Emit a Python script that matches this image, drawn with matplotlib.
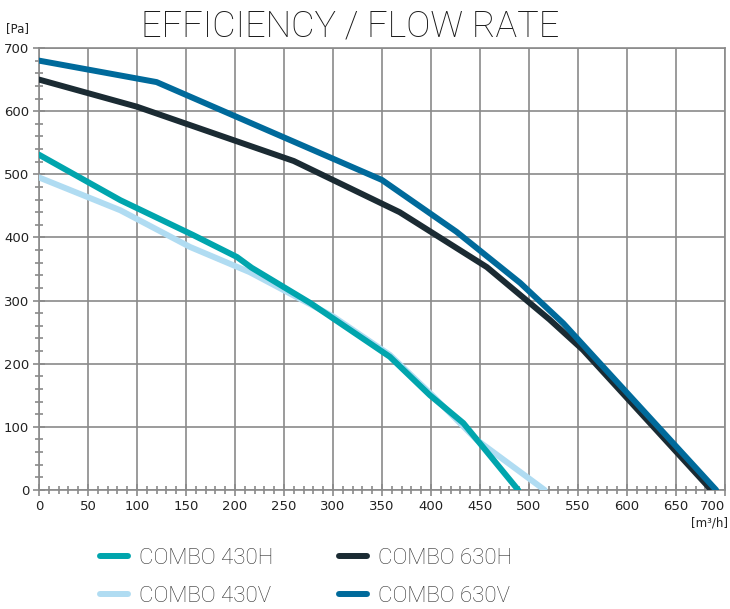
import numpy as np
import matplotlib
matplotlib.use("Agg")
import matplotlib.pyplot as plt
from matplotlib.ticker import MultipleLocator
from matplotlib.lines import Line2D

# curves (flow m3/h, pressure Pa)
x_430h = [0, 83, 157, 202, 217, 277, 358, 399, 433, 489]
y_430h = [531, 459, 404, 369, 352, 296, 211, 150, 106, 0]
x_430v = [0, 83, 154, 215, 243, 300, 358, 400, 447, 516]
y_430v = [495, 443, 385, 345, 322, 275, 214, 152, 79, 0]
x_630h = [0, 100, 260, 368, 457, 521, 555, 686]
y_630h = [650, 607, 521, 440, 353, 270, 222, 0]
x_630v = [0, 120, 350, 426, 491, 535, 691]
y_630v = [680, 646, 491, 409, 328, 264, 0]

names = ["COMBO 430H", "COMBO 430V", "COMBO 630H", "COMBO 630V"]
colors = ["#00a5ad", "#b0dcf2", "#1b2b33", "#006a9b"]
xticks = list(range(0, 701, 50))

fig = plt.figure(figsize=(7.3, 6.09), dpi=100)
ax = fig.add_axes([0.0534, 0.1954, 0.9397, 0.7258])

lw = 4.3
ax.plot(x_430v, y_430v, color=colors[1], lw=lw, solid_capstyle="round", zorder=3)
ax.plot(x_430h, y_430h, color=colors[0], lw=lw, solid_capstyle="round", zorder=4)
ax.plot(x_630h, y_630h, color=colors[2], lw=lw, solid_capstyle="round", zorder=5)
ax.plot(x_630v, y_630v, color=colors[3], lw=lw, solid_capstyle="round", zorder=6)

ax.set_xlim(0, 700)
ax.set_ylim(0, 700)
ax.set_xticks(xticks, [str(v) for v in xticks])
ax.xaxis.set_minor_locator(MultipleLocator(10))
ax.yaxis.set_major_locator(MultipleLocator(100))
ax.yaxis.set_minor_locator(MultipleLocator(20))
ax.grid(True, which="major", color="#8a8a8a", lw=1.2, zorder=1)
for s in ax.spines.values():
    s.set_color("#8a8a8a")
    s.set_linewidth(1.2)
ax.tick_params(which="both", color="#8a8a8a", width=1.2, direction="inout",
               labelsize=9.5, labelcolor="#222222")
ax.tick_params(which="major", length=8, pad=3)
ax.tick_params(which="minor", length=6)
ax.set_axisbelow(True)
# keep the 700 label inside the figure
ax.get_xticklabels()[-1].set_horizontalalignment("right")

fig.text(0.48, 0.957, "EFFICIENCY / FLOW RATE", ha="center", va="center",
         fontsize=26, family="Roboto", weight="light", color="#1a1a1a")
fig.text(0.008, 0.953, "[Pa]", ha="left", va="center", fontsize=8.5, color="#222222")
fig.text(0.997, 0.142, "[m³/h]", ha="right", va="center", fontsize=8.5, color="#222222")

handles = [Line2D([0], [0], color=c, lw=lw, solid_capstyle="round") for c in colors]
leg = fig.legend(handles, names, ncol=2, loc="center left",
                 bbox_to_anchor=(0.11, 0.052), frameon=False,
                 prop={"family": "Roboto", "weight": "light", "size": 16},
                 handlelength=1.25, handletextpad=0.5, columnspacing=2.95,
                 labelspacing=0.75, labelcolor="#333333")

fig.savefig("out.png", dpi=100)
